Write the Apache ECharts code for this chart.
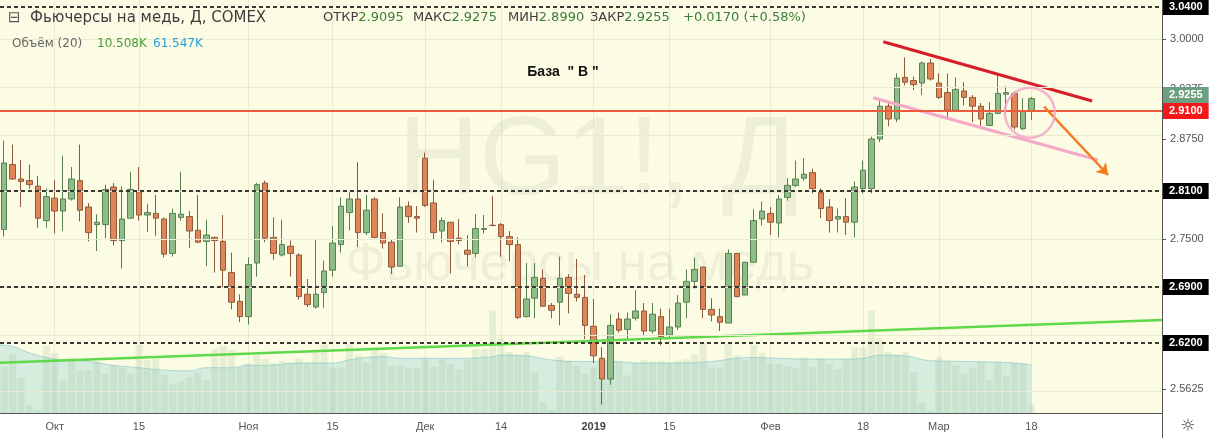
<!DOCTYPE html>
<html>
<head>
<meta charset="utf-8">
<title>Фьючерсы на медь, Д, COMEX</title>
<script src="https://cdn.jsdelivr.net/npm/echarts@6.0.0/dist/echarts.min.js"></script>
<style>
  html, body { margin: 0; padding: 0; background: #fff; }
  #chart { width: 1214px; height: 438px; }
</style>
</head>
<body>
<div id="chart"></div>
<script>
// HG1! дневные свечи, 21.09.2018 - 18.03.2019
const openP = [
  2.762, 2.843, 2.825, 2.823, 2.816, 2.773, 2.801, 2.785, 2.800, 2.823,
  2.790, 2.768, 2.768, 2.815, 2.748, 2.776, 2.809, 2.780, 2.782, 2.775,
  2.732, 2.777, 2.778, 2.761, 2.747, 2.752, 2.747, 2.708, 2.672, 2.653,
  2.720, 2.820, 2.752, 2.730, 2.741, 2.730, 2.681, 2.665, 2.683, 2.711,
  2.743, 2.783, 2.800, 2.758, 2.800, 2.758, 2.746, 2.716, 2.791, 2.778,
  2.851, 2.795, 2.760, 2.771, 2.751, 2.736, 2.732, 2.762, 2.7672, 2.768,
  2.753, 2.743, 2.653, 2.676, 2.701, 2.667, 2.671, 2.702, 2.681, 2.677,
  2.641, 2.601, 2.575, 2.650, 2.637, 2.651, 2.660, 2.635, 2.653, 2.630,
  2.640, 2.671, 2.697, 2.715, 2.662, 2.653, 2.645, 2.732, 2.680, 2.721,
  2.775, 2.782, 2.770, 2.802, 2.817, 2.826, 2.833, 2.808, 2.790, 2.775,
  2.778, 2.771, 2.813, 2.813, 2.875, 2.916, 2.900, 2.952, 2.948, 2.945,
  2.970, 2.945, 2.933, 2.911, 2.935, 2.927, 2.916, 2.892, 2.907, 2.931,
  2.932, 2.888, 2.9095
];
const closeP = [
  2.845, 2.825, 2.822, 2.818, 2.776, 2.803, 2.785, 2.800, 2.825, 2.786,
  2.758, 2.771, 2.812, 2.748, 2.775, 2.812, 2.780, 2.783, 2.776, 2.731,
  2.782, 2.781, 2.760, 2.746, 2.755, 2.748, 2.711, 2.671, 2.653, 2.718,
  2.818, 2.751, 2.732, 2.743, 2.732, 2.678, 2.668, 2.681, 2.710, 2.745,
  2.791, 2.800, 2.758, 2.786, 2.752, 2.745, 2.715, 2.790, 2.778, 2.776,
  2.792, 2.758, 2.773, 2.747, 2.748, 2.731, 2.763, 2.763, 2.7668, 2.753,
  2.743, 2.652, 2.675, 2.702, 2.666, 2.661, 2.701, 2.682, 2.677, 2.642,
  2.604, 2.575, 2.642, 2.636, 2.650, 2.660, 2.635, 2.656, 2.628, 2.640,
  2.670, 2.697, 2.712, 2.662, 2.655, 2.646, 2.732, 2.678, 2.721, 2.773,
  2.785, 2.771, 2.800, 2.817, 2.825, 2.831, 2.813, 2.788, 2.773, 2.778,
  2.771, 2.815, 2.836, 2.875, 2.916, 2.900, 2.951, 2.946, 2.943, 2.970,
  2.950, 2.927, 2.911, 2.937, 2.927, 2.916, 2.900, 2.907, 2.932, 2.933,
  2.890, 2.910, 2.9255
];
const lowP = [
  2.753, 2.824, 2.790, 2.813, 2.764, 2.764, 2.757, 2.760, 2.798, 2.772,
  2.747, 2.735, 2.751, 2.742, 2.713, 2.776, 2.773, 2.759, 2.754, 2.727,
  2.728, 2.773, 2.739, 2.745, 2.716, 2.708, 2.690, 2.662, 2.646, 2.643,
  2.703, 2.746, 2.724, 2.728, 2.703, 2.674, 2.665, 2.663, 2.664, 2.703,
  2.733, 2.761, 2.740, 2.755, 2.751, 2.738, 2.706, 2.716, 2.770, 2.758,
  2.790, 2.750, 2.746, 2.707, 2.743, 2.716, 2.727, 2.757, 2.766, 2.728,
  2.722, 2.650, 2.652, 2.651, 2.665, 2.651, 2.642, 2.657, 2.672, 2.625,
  2.595, 2.543, 2.568, 2.633, 2.625, 2.648, 2.630, 2.632, 2.617, 2.627,
  2.636, 2.651, 2.688, 2.651, 2.647, 2.635, 2.645, 2.677, 2.680, 2.721,
  2.767, 2.755, 2.752, 2.798, 2.815, 2.823, 2.807, 2.776, 2.758, 2.758,
  2.755, 2.752, 2.807, 2.807, 2.871, 2.891, 2.896, 2.942, 2.936, 2.930,
  2.948, 2.925, 2.902, 2.910, 2.917, 2.896, 2.888, 2.891, 2.906, 2.907,
  2.887, 2.886, 2.899
];
const highP = [
  2.873, 2.868, 2.849, 2.843, 2.829, 2.813, 2.824, 2.854, 2.840, 2.868,
  2.795, 2.781, 2.818, 2.820, 2.816, 2.834, 2.840, 2.794, 2.805, 2.777,
  2.788, 2.834, 2.785, 2.805, 2.774, 2.753, 2.780, 2.733, 2.681, 2.727,
  2.820, 2.823, 2.777, 2.774, 2.748, 2.732, 2.700, 2.749, 2.723, 2.766,
  2.802, 2.810, 2.846, 2.805, 2.802, 2.782, 2.750, 2.802, 2.797, 2.791,
  2.858, 2.824, 2.777, 2.771, 2.775, 2.755, 2.781, 2.780, 2.804, 2.770,
  2.760, 2.752, 2.720, 2.720, 2.712, 2.670, 2.728, 2.706, 2.725, 2.705,
  2.675, 2.615, 2.656, 2.658, 2.658, 2.686, 2.670, 2.670, 2.663, 2.663,
  2.680, 2.712, 2.727, 2.715, 2.676, 2.663, 2.737, 2.732, 2.721, 2.787,
  2.797, 2.790, 2.805, 2.826, 2.848, 2.851, 2.838, 2.813, 2.800, 2.788,
  2.801, 2.822, 2.848, 2.878, 2.925, 2.921, 2.957, 2.977, 2.953, 2.972,
  2.975, 2.957, 2.957, 2.952, 2.946, 2.930, 2.920, 2.921, 2.956, 2.941,
  2.935, 2.926, 2.9275
];
// объём, тыс.
const volume = [
  59, 75, 45, 10, 4, 86, 77, 41, 71, 54,
  55, 66, 50, 61, 58, 50, 87, 68, 69, 49,
  37, 40, 46, 52, 42, 82, 86, 81, 58, 64,
  74, 69, 64, 67, 64, 70, 64, 81, 88, 58,
  58, 88, 74, 65, 81, 77, 61, 61, 58, 58,
  70, 59, 69, 63, 56, 68, 82, 82, 131, 95,
  78, 75, 78, 52, 13, 4, 72, 67, 61, 50,
  58, 70, 65, 66, 48, 64, 68, 66, 67, 64,
  67, 69, 75, 90, 58, 58, 88, 74, 67, 87,
  77, 63, 63, 60, 58, 71, 59, 70, 63, 56,
  69, 84, 84, 131, 95, 78, 75, 78, 52, 13,
  3, 72, 67, 61, 50, 58, 66, 42, 66, 48,
  64, 64, 10.5
];
// Объём (20): точки кривой, индекс свечи / значение
const volMaIdx = [-0.5, 1, 3, 5, 7, 10, 13, 15, 19, 22, 24, 27, 29, 31, 35, 39, 41, 43, 45, 47, 50, 54,
  58, 59, 62, 65, 68, 72, 76, 79, 84, 87, 89, 92, 96, 100, 102, 104, 107, 110, 114, 118, 120, 122];
const volMaVal = [87, 85, 77, 71, 68, 66, 61, 59, 55, 54, 58, 58, 61, 61, 64, 64, 68, 71, 72, 70, 70, 70,
  72, 74, 73, 68, 66, 66, 64, 64, 66, 70, 71, 70, 69, 69, 70, 74, 73, 67, 66, 65, 64, 61.5];

// шкала времени
const slotCount = 138;
const tickPos = [6, 16, 29, 39, 50, 59, 70, 79, 91, 102, 111, 122];
const tickText = ['Окт', '15', 'Ноя', '15', 'Дек', '14', '2019', '15', 'Фев', '18', 'Мар', '18'];

// ценовая шкала и уровни
const gridLevels = [2.5625, 2.625, 2.6875, 2.75, 2.8125, 2.875, 2.9375, 3.0];
const priceLabels = [2.5625, 2.75, 2.875, 2.9375, 3.0];
const dashLevels = [3.04, 2.81, 2.69, 2.62];
const redLevel = 2.91;
const lastPrice = 2.9255;

// рисунки на графике: [индекс свечи, цена]
const greenLine = [[-0.5, 2.5954], [137.5, 2.6488]];
const redTrend = [[104.4, 2.9966], [129.2, 2.9225]];
const pinkTrend = [[103.2, 2.9266], [129.9, 2.8488]];
const circleAt = [121.8, 2.9079];
const arrowLine = [[123.5, 2.9154], [131.1, 2.830]];

// строка OHLC в заголовке
const headKeys = ['ОТКР', 'МАКС', 'МИН', 'ЗАКР', ''];
const headVals = ['2.9095', '2.9275', '2.8990', '2.9255', '+0.0170 (+0.58%)'];
const headX = [323, 413, 508, 590, 683];

const categories = Array.from({ length: slotCount }, (_, i) => String(i));
const candles = openP.map((o, i) => [o, closeP[i], lowP[i], highP[i]]);
const volMa = volMaIdx.map((x, i) => [x, volMaVal[i]]);
const isTick = (i) => tickPos.indexOf(i) >= 0;

function tag(value, bg) {
  return {
    show: true,
    position: 'end',
    distance: 1,
    formatter: value.toFixed(4),
    color: '#fff',
    backgroundColor: bg,
    fontFamily: 'Liberation Sans',
    fontWeight: 'bold',
    fontSize: 11,
    padding: [3, 6, 2, 6]
  };
}

const chart = echarts.init(document.getElementById('chart'));

const headText = headKeys.map((k, i) => ({
  type: 'text', x: headX[i], y: 18, z: 10,
  style: {
    text: (k ? '{k|' + k + '}' : '') + '{v|' + headVals[i] + '}',
    verticalAlign: 'middle',
    rich: {
      k: { fontSize: 13, fontFamily: 'DejaVu Sans', fill: '#3d3d3d' },
      v: { fontSize: 13, fontFamily: 'DejaVu Sans', fill: '#3b7d3b' }
    }
  }
}));

const option = {
  animation: false,
  backgroundColor: '#ffffff',
  textStyle: { fontFamily: 'Liberation Sans' },
  grid: {
    left: 0, right: 52, top: 0, bottom: 25,
    show: true, backgroundColor: '#fcfce4', borderWidth: 0
  },
  xAxis: [
    {
      type: 'category',
      data: categories,
      boundaryGap: true,
      axisLine: { lineStyle: { color: '#555', width: 1 } },
      axisTick: { alignWithLabel: true, interval: isTick, length: 4, lineStyle: { color: '#555' } },
      axisLabel: {
        interval: isTick,
        margin: 8,
        color: '#555',
        fontSize: 11,
        formatter: function (v) {
          const t = tickText[tickPos.indexOf(Number(v))];
          return t === '2019' ? '{b|2019}' : t;
        },
        rich: { b: { fontWeight: 'bold', fontSize: 11, color: '#444' } }
      },
      splitLine: { show: true, interval: isTick, alignWithLabel: true, lineStyle: { color: '#e8ead2', width: 1 } }
    },
    { type: 'value', min: -0.5, max: slotCount - 0.5, show: false }
  ],
  yAxis: [
    {
      type: 'value',
      position: 'right',
      min: 2.5325,
      max: 3.04875,
      axisLine: { show: true, onZero: false, lineStyle: { color: '#555' } },
      axisTick: { show: true, customValues: priceLabels, length: 4, lineStyle: { color: '#555' } },
      axisLabel: {
        customValues: priceLabels,
        margin: 8,
        color: '#555',
        fontSize: 11,
        formatter: (v) => v.toFixed(4)
      },
      splitLine: { show: false }
    },
    { type: 'value', min: 0, max: 528.6, show: false, axisLine: { onZero: false } }
  ],
  series: [
    {
      // сетка по цене
      type: 'line', data: [], silent: true, z: 1,
      markLine: {
        silent: true, symbol: ['none', 'none'],
        label: { show: false },
        lineStyle: { color: '#e8ead2', width: 1, type: 'solid' },
        data: gridLevels.map((v) => ({ yAxis: v }))
      }
    },
    {
      name: 'Объём', type: 'bar', xAxisIndex: 0, yAxisIndex: 1,
      data: volume, barWidth: '84%', silent: true, z: 1,
      itemStyle: { color: 'rgba(150,190,140,0.2)' }
    },
    {
      name: 'Объём MA', type: 'line', xAxisIndex: 1, yAxisIndex: 1,
      data: volMa, smooth: true, showSymbol: false, silent: true, z: 1,
      lineStyle: { color: 'rgba(110,190,200,0.5)', width: 1 },
      areaStyle: { color: 'rgba(130,200,210,0.45)' }
    },
    {
      name: 'HG1!', type: 'candlestick', xAxisIndex: 0, yAxisIndex: 0,
      data: candles, barWidth: 6, z: 2,
      itemStyle: {
        color: '#8fbd8a', color0: '#df8558',
        borderColor: '#57804f', borderColor0: '#8e5a3b', borderWidth: 1
      }
    },
    {
      // уровни и метки на шкале
      type: 'line', data: [], silent: true, z: 3,
      markLine: {
        silent: true, symbol: ['none', 'none'],
        data: dashLevels.map((v) => ({
          yAxis: v, label: tag(v, '#000'),
          lineStyle: { color: '#3a3a30', width: 2, type: [4, 3] }
        })).concat([
          { yAxis: redLevel, label: tag(redLevel, '#f3191b'), lineStyle: { color: '#ee5a3c', width: 2, type: 'solid' } },
          { yAxis: lastPrice, label: tag(lastPrice, '#6c9f80'), lineStyle: { color: 'rgba(0,0,0,0)', width: 1 } }
        ])
      }
    },
    {
      type: 'line', xAxisIndex: 1, yAxisIndex: 0, data: greenLine, symbol: 'none', silent: true, z: 4,
      lineStyle: { color: '#5fd84a', width: 2.5 }
    },
    {
      type: 'line', xAxisIndex: 1, yAxisIndex: 0, data: redTrend, symbol: 'none', silent: true, z: 4,
      lineStyle: { color: '#d61f2a', width: 3 }
    },
    {
      type: 'line', xAxisIndex: 1, yAxisIndex: 0, data: pinkTrend, symbol: 'none', silent: true, z: 4,
      lineStyle: { color: '#f5a8c8', width: 3 }
    },
    {
      type: 'scatter', xAxisIndex: 1, yAxisIndex: 0, data: [circleAt], symbolSize: 50, silent: true, z: 5,
      itemStyle: { color: 'rgba(0,0,0,0)', borderColor: '#f2a2c6', borderWidth: 2.5 }
    },
    {
      type: 'line', xAxisIndex: 1, yAxisIndex: 0, data: [], silent: true, z: 5,
      markLine: {
        silent: true, symbol: ['none', 'arrow'], symbolSize: 11,
        label: { show: false },
        lineStyle: { color: '#f47b22', width: 2.5, type: 'solid' },
        data: [[{ coord: arrowLine[0] }, { coord: arrowLine[1] }]]
      }
    }
  ],
  graphic: [
    {
      type: 'text', x: 598, y: 163, z: 1, silent: true,
      style: { text: 'HG1!, Д', fontSize: 112, fontFamily: 'Liberation Sans', fill: 'rgba(120,130,110,0.1)', align: 'center', verticalAlign: 'middle' }
    },
    {
      type: 'text', x: 580, y: 265, z: 1, silent: true,
      style: { text: 'Фьючерсы на медь', fontSize: 53, fontFamily: 'Liberation Sans', fill: 'rgba(120,130,110,0.1)', align: 'center', verticalAlign: 'middle' }
    },
    {
      type: 'text', x: 8, y: 18, z: 10,
      style: { text: '⊟', fontSize: 15, fontFamily: 'DejaVu Sans', fill: '#555', verticalAlign: 'middle' }
    },
    {
      type: 'text', x: 30, y: 18, z: 10,
      style: { text: 'Фьючерсы на медь, Д, COMEX', fontSize: 15, fontFamily: 'DejaVu Sans', fill: '#3d3d3d', verticalAlign: 'middle' }
    }
  ].concat(headText).concat([
    {
      type: 'text', x: 12, y: 44, z: 10,
      style: { text: 'Объём (20)', fontSize: 12, fontFamily: 'DejaVu Sans', fill: '#666', verticalAlign: 'middle' }
    },
    {
      type: 'text', x: 97, y: 44, z: 10,
      style: { text: '10.508K', fontSize: 12, fontFamily: 'DejaVu Sans', fill: '#4a9a3c', verticalAlign: 'middle' }
    },
    {
      type: 'text', x: 153, y: 44, z: 10,
      style: { text: '61.547K', fontSize: 12, fontFamily: 'DejaVu Sans', fill: '#2f9ed8', verticalAlign: 'middle' }
    },
    {
      type: 'text', x: 563, y: 72, z: 10,
      style: { text: 'База  " В "', fontSize: 14, fontWeight: 'bold', fontFamily: 'Liberation Sans', fill: '#111', align: 'center', verticalAlign: 'middle' }
    },
    {
      type: 'line', z: 10, silent: true,
      shape: { x1: 1162.5, y1: 413, x2: 1162.5, y2: 438 },
      style: { stroke: '#555', lineWidth: 1 }
    },
    {
      type: 'text', x: 1188, y: 427, z: 10,
      style: { text: '☼', fontSize: 17, fontFamily: 'DejaVu Sans', fill: '#444', align: 'center', verticalAlign: 'middle' }
    }
  ])
};

chart.setOption(option);
</script>
</body>
</html>
